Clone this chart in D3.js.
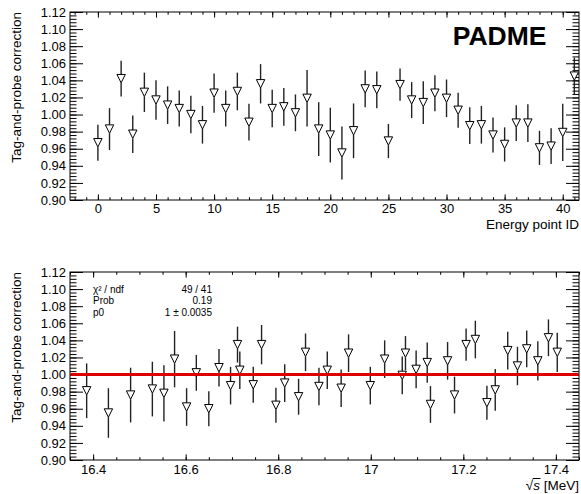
<!DOCTYPE html>
<html>
<head>
<meta charset="utf-8">
<script src="https://cdn.jsdelivr.net/npm/d3@7"></script>
<style>
	body { margin: 0; background: #fff; }
	svg { display: block; }
	text { font-family: "Liberation Sans", Arial, Helvetica, sans-serif; }
</style>
</head>
<body>
<div id="chart"></div>
<script>
// top panel: correction vs energy point ID
const pointIds = [0, 1, 2, 3, 4, 5, 6, 7, 8, 9, 10, 11, 12, 13, 14, 15, 16, 17, 18, 19, 20,
	21, 22, 23, 24, 25, 26, 27, 28, 29, 30, 31, 32, 33, 34, 35, 36, 37, 38, 39, 40, 41];
const topValues = [0.967, 0.983, 1.042, 0.977, 1.026, 1.017, 1.011, 1.007, 1.000, 0.988, 1.025,
	1.007, 1.027, 0.991, 1.036, 1.007, 1.009, 1.002, 1.019, 0.983, 0.976,
	0.955, 0.981, 1.030, 1.029, 0.969, 1.035, 1.017, 1.014, 1.025, 1.019,
	1.005, 0.987, 0.988, 0.976, 0.965, 0.990, 0.990, 0.961, 0.963, 0.979, 1.045];
const topErrors = [0.021, 0.0245, 0.021, 0.022, 0.023, 0.023, 0.022, 0.021, 0.022, 0.022, 0.023,
	0.021, 0.022, 0.0215, 0.023, 0.022, 0.022, 0.0215, 0.033, 0.0315, 0.032,
	0.031, 0.032, 0.0215, 0.0215, 0.020, 0.019, 0.021, 0.025, 0.021, 0.022,
	0.0205, 0.0215, 0.022, 0.0205, 0.020, 0.021, 0.022, 0.020, 0.021, 0.0335, 0.0215];

// bottom panel: correction vs sqrt(s)
const sqrtS = [16.386, 16.433, 16.481, 16.528, 16.553, 16.576, 16.602, 16.623, 16.650, 16.672,
	16.697, 16.712, 16.717, 16.746, 16.764, 16.795, 16.814, 16.844, 16.859, 16.888,
	16.906, 16.936, 16.952, 16.999, 17.030, 17.068, 17.075, 17.098, 17.122, 17.129,
	17.166, 17.181, 17.206, 17.226, 17.251, 17.269, 17.296, 17.317, 17.337, 17.361,
	17.384, 17.403];
const botValues = [0.981, 0.955, 0.976, 0.983, 0.978, 1.018, 0.962, 1.002, 0.960, 1.008,
	0.987, 1.035, 1.005, 0.988, 1.035, 0.964, 0.990, 0.974, 1.026, 0.986,
	1.005, 0.984, 1.025, 0.987, 1.018, 0.999, 1.025, 1.006, 1.014, 0.965,
	1.016, 0.976, 1.035, 1.041, 0.967, 0.982, 1.028, 1.010, 1.030, 1.016,
	1.043, 1.026];
const botErrors = [0.032, 0.029, 0.032, 0.032, 0.033, 0.033, 0.022, 0.021, 0.0205, 0.022,
	0.022, 0.021, 0.022, 0.021, 0.023, 0.0205, 0.022, 0.021, 0.022, 0.022,
	0.022, 0.022, 0.022, 0.022, 0.022, 0.022, 0.020, 0.022, 0.0235, 0.0215,
	0.022, 0.0215, 0.019, 0.022, 0.020, 0.0245, 0.022, 0.0225, 0.0215, 0.023,
	0.0215, 0.023];

// ticks and labels
const yTicks = [0.90, 0.92, 0.94, 0.96, 0.98, 1.00, 1.02, 1.04, 1.06, 1.08, 1.10, 1.12];
const topXTicks = [0, 5, 10, 15, 20, 25, 30, 35, 40];
const botXTicks = [16.4, 16.6, 16.8, 17, 17.2, 17.4];
const botXTickLabels = ['16.4', '16.6', '16.8', '17', '17.2', '17.4'];

// fit result box
const statNames = ['χ² / ndf', 'Prob', 'p0'];
const statValues = ['49 / 41', '0.19', '1 ± 0.0035'];
const fitP0 = 1;

const width = 581;
const height = 494;
const left = 70, right = 579;
const fontFam = '"Liberation Sans", Arial, Helvetica, sans-serif';

const svg = d3.select('#chart')
	.append('svg')
	.attr('width', width)
	.attr('height', height);

const y0 = 0.90, y1 = 1.12;

const drawPanel = (opt) => {
	const { top, bottom, x, xTicks, xMinor, xFormat, labelPad } = opt;
	const y = d3.scaleLinear().domain([y0, y1]).range([bottom, top]);
	const g = svg.append('g');

	const yMinor = d3.range(y0, y1 + 1e-9, 0.004).map(v => +v.toFixed(3));

	const style = (sel) => {
		sel.attr('font-family', fontFam).attr('font-size', 13);
		sel.select('.domain').remove();
		sel.selectAll('line').attr('stroke', '#000').attr('stroke-width', 1);
		sel.selectAll('text').attr('fill', '#000');
	};

	// left axis
	g.append('g').attr('transform', `translate(${left},0)`)
		.call(d3.axisLeft(y).tickValues(yMinor).tickSize(-6.5).tickFormat(''))
		.call(style);
	g.append('g').attr('transform', `translate(${left},0)`)
		.call(d3.axisLeft(y).tickValues(yTicks).tickSize(-13).tickPadding(4).tickFormat(d3.format('.2f')))
		.call(style);
	// right axis (mirror)
	g.append('g').attr('transform', `translate(${right},0)`)
		.call(d3.axisRight(y).tickValues(yMinor).tickSize(-6.5).tickFormat(''))
		.call(style);
	g.append('g').attr('transform', `translate(${right},0)`)
		.call(d3.axisRight(y).tickValues(yTicks).tickSize(-13).tickFormat(''))
		.call(style);
	// bottom axis
	g.append('g').attr('transform', `translate(0,${bottom})`)
		.call(d3.axisBottom(x).tickValues(xMinor).tickSize(-2.8).tickFormat(''))
		.call(style);
	g.append('g').attr('transform', `translate(0,${bottom})`)
		.call(d3.axisBottom(x).tickValues(xTicks).tickSize(-5.6).tickPadding(labelPad).tickFormat(xFormat))
		.call(style);
	// top axis (mirror)
	g.append('g').attr('transform', `translate(0,${top})`)
		.call(d3.axisTop(x).tickValues(xMinor).tickSize(-2.8).tickFormat(''))
		.call(style);
	g.append('g').attr('transform', `translate(0,${top})`)
		.call(d3.axisTop(x).tickValues(xTicks).tickSize(-5.6).tickFormat(''))
		.call(style);

	// frame
	g.append('rect')
		.attr('x', left).attr('y', top)
		.attr('width', right - left).attr('height', bottom - top)
		.attr('fill', 'none').attr('stroke', '#000').attr('stroke-width', 1);

	// y title
	g.append('text')
		.attr('transform', `translate(20.5,${top}) rotate(-90)`)
		.attr('text-anchor', 'end')
		.attr('font-size', 13.5)
		.text('Tag-and-probe correction');

	return { g, y };
};

const drawPoints = (g, x, y, xs, vals, errs) => {
	const r = 4.2;
	const pts = xs.map((d, i) => ({ x: d, v: vals[i], e: errs[i] }));
	const pg = g.append('g');
	pts.forEach(p => {
		const cx = x(p.x), cy = y(p.v);
		const yHi = y(p.v + p.e), yLo = y(p.v - p.e);
		if (cy - r > yHi) {
			pg.append('line').attr('x1', cx).attr('x2', cx).attr('y1', yHi).attr('y2', cy - r)
				.attr('stroke', '#222').attr('stroke-width', 1.4);
		}
		if (yLo > cy + r) {
			pg.append('line').attr('x1', cx).attr('x2', cx).attr('y1', cy + r).attr('y2', yLo)
				.attr('stroke', '#222').attr('stroke-width', 1.4);
		}
	});
	pg.selectAll('path.mk')
		.data(pts)
		.enter()
		.append('path')
		.attr('class', 'mk')
		.attr('d', p => {
			const cx = x(p.x), cy = y(p.v);
			return `M${cx - r},${cy - r}L${cx + r},${cy - r}L${cx},${cy + r}Z`;
		})
		.attr('fill', '#fff')
		.attr('stroke', '#000')
		.attr('stroke-width', 1);
};

// ---- top panel
const xTop = d3.scaleLinear().domain([-2.4, 41.4]).range([left, right]);
const topPanel = drawPanel({
	top: 12, bottom: 200, x: xTop,
	xTicks: topXTicks, xMinor: d3.range(-2, 42, 1),
	xFormat: d3.format('d'), labelPad: 4
});
drawPoints(topPanel.g, xTop, topPanel.y, pointIds, topValues, topErrors);

topPanel.g.append('text')
	.attr('x', right).attr('y', 228.5)
	.attr('text-anchor', 'end')
	.attr('font-size', 13.5)
	.text('Energy point ID');

topPanel.g.append('text')
	.attr('x', 452.7).attr('y', 44.5)
	.attr('font-size', 26.5)
	.attr('font-weight', 'bold')
	.text('PADME');

// ---- bottom panel
const xBot = d3.scaleLinear().domain([16.35, 17.45]).range([left, right]);
const botPanel = drawPanel({
	top: 272, bottom: 460, x: xBot,
	xTicks: botXTicks, xMinor: d3.range(16.35, 17.451, 0.05).map(v => +v.toFixed(2)),
	xFormat: (d, i) => botXTickLabels[i], labelPad: 5
});
drawPoints(botPanel.g, xBot, botPanel.y, sqrtS, botValues, botErrors);

// fit line
botPanel.g.append('line')
	.attr('x1', left + 0.5).attr('x2', right - 0.5)
	.attr('y1', botPanel.y(fitP0)).attr('y2', botPanel.y(fitP0))
	.attr('stroke', '#dd0000').attr('stroke-width', 3);

// stats
const statG = botPanel.g.append('g').attr('font-size', 10);
statNames.forEach((s, i) => {
	statG.append('text').attr('x', 93).attr('y', 292.5 + i * 11.5).text(s);
	statG.append('text').attr('x', 212).attr('y', 292.5 + i * 11.5)
		.attr('text-anchor', 'end').text(statValues[i]);
});

// x title with sqrt(s)
const xt = botPanel.g.append('text')
	.attr('x', right).attr('y', 489.5)
	.attr('text-anchor', 'end')
	.attr('font-size', 13.5);
xt.append('tspan').text('√');
xt.append('tspan').attr('font-style', 'italic').text('s');
xt.append('tspan').text(' [MeV]');
const node = xt.node();
const s0 = node.getStartPositionOfChar(1), s1 = node.getEndPositionOfChar(1);
botPanel.g.append('line')
	.attr('x1', s0.x - 0.5).attr('x2', s1.x + 0.5)
	.attr('y1', 489.5 - 11).attr('y2', 489.5 - 11)
	.attr('stroke', '#000').attr('stroke-width', 1);
</script>
</body>
</html>
